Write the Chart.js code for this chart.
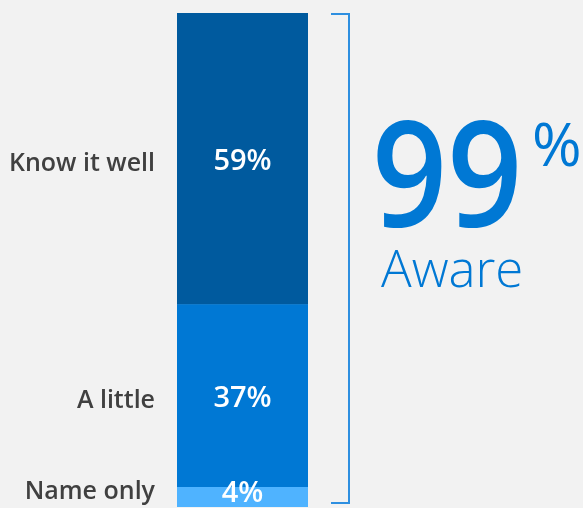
<!DOCTYPE html>
<html>
<head>
<meta charset="utf-8">
<script src="https://cdn.jsdelivr.net/npm/chart.js@4/dist/chart.umd.min.js"></script>
<style>
  html, body { margin: 0; padding: 0; background: #f2f2f2; }
  #wrap { width: 583px; height: 508px; }
</style>
</head>
<body>
<div id="wrap"><canvas id="c" width="583" height="508"></canvas></div>
<script>
// Data
const categories = ["Awareness"];
const segmentLabels = ["Name only", "A little", "Know it well"];
const segmentValues = [4, 37, 59];
const segmentColors = ["#4fb3ff", "#0078d4", "#005a9e"];
const totalAwareText = "99";
const totalAwareLabel = "Aware";

const overlay = {
  id: "overlay",
  afterDatasetsDraw(chart) {
    const ctx = chart.ctx;
    const area = chart.chartArea;
    ctx.save();
    chart.data.datasets.forEach((ds, i) => {
      const bar = chart.getDatasetMeta(i).data[0];
      const top = Math.min(bar.y, bar.base);
      const bottom = Math.max(bar.y, bar.base);
      let cy = (top + bottom) / 2;
      // value label
      ctx.fillStyle = "#ffffff";
      ctx.font = "600 29px 'Open Sans', sans-serif";
      ctx.textAlign = "center";
      ctx.textBaseline = "middle";
      let vy = Math.min(cy + 3, chart.height - 14);
      ctx.fillText(segmentValues[i] + "%", bar.x, vy);
      // category label
      ctx.fillStyle = "#404040";
      ctx.font = "600 25px 'Open Sans', sans-serif";
      ctx.textAlign = "right";
      let ly = Math.min(cy + 5, chart.height - 16);
      ctx.fillText(segmentLabels[i], area.left - 22, ly);
    });
    // bracket
    const bx = area.right + 41;
    ctx.strokeStyle = "#2e8fe0";
    ctx.lineWidth = 2;
    ctx.beginPath();
    ctx.moveTo(bx - 18, area.top + 1);
    ctx.lineTo(bx, area.top + 1);
    ctx.lineTo(bx, area.bottom - 4);
    ctx.lineTo(bx - 18, area.bottom - 4);
    ctx.stroke();
    // big number
    ctx.fillStyle = "#0078d4";
    ctx.textAlign = "left";
    ctx.textBaseline = "alphabetic";
    ctx.save();
    ctx.translate(area.right + 64, area.top + 214);
    ctx.scale(0.9, 1);
    ctx.font = "600 146px 'Open Sans', sans-serif";
    ctx.fillText(totalAwareText, 0, 0);
    ctx.restore();
    ctx.font = "400 60px 'Open Sans', sans-serif";
    ctx.fillText("%", area.right + 224, area.top + 153);
    ctx.font = "300 51px 'Open Sans', sans-serif";
    ctx.fillText(totalAwareLabel, area.right + 73, area.top + 274);
    ctx.restore();
  }
};

new Chart(document.getElementById("c"), {
  type: "bar",
  data: {
    labels: categories,
    datasets: segmentValues.map((v, i) => ({
      label: segmentLabels[i],
      data: [v],
      backgroundColor: segmentColors[i],
      borderWidth: 0,
      barPercentage: 1,
      categoryPercentage: 1
    }))
  },
  options: {
    responsive: false,
    animation: false,
    layout: { padding: { left: 177, right: 275, top: 13, bottom: 1 } },
    scales: {
      x: { stacked: true, display: false },
      y: { stacked: true, display: false, min: 0, max: 100 }
    },
    plugins: { legend: { display: false }, tooltip: { enabled: false } }
  },
  plugins: [overlay]
});
</script>
</body>
</html>
